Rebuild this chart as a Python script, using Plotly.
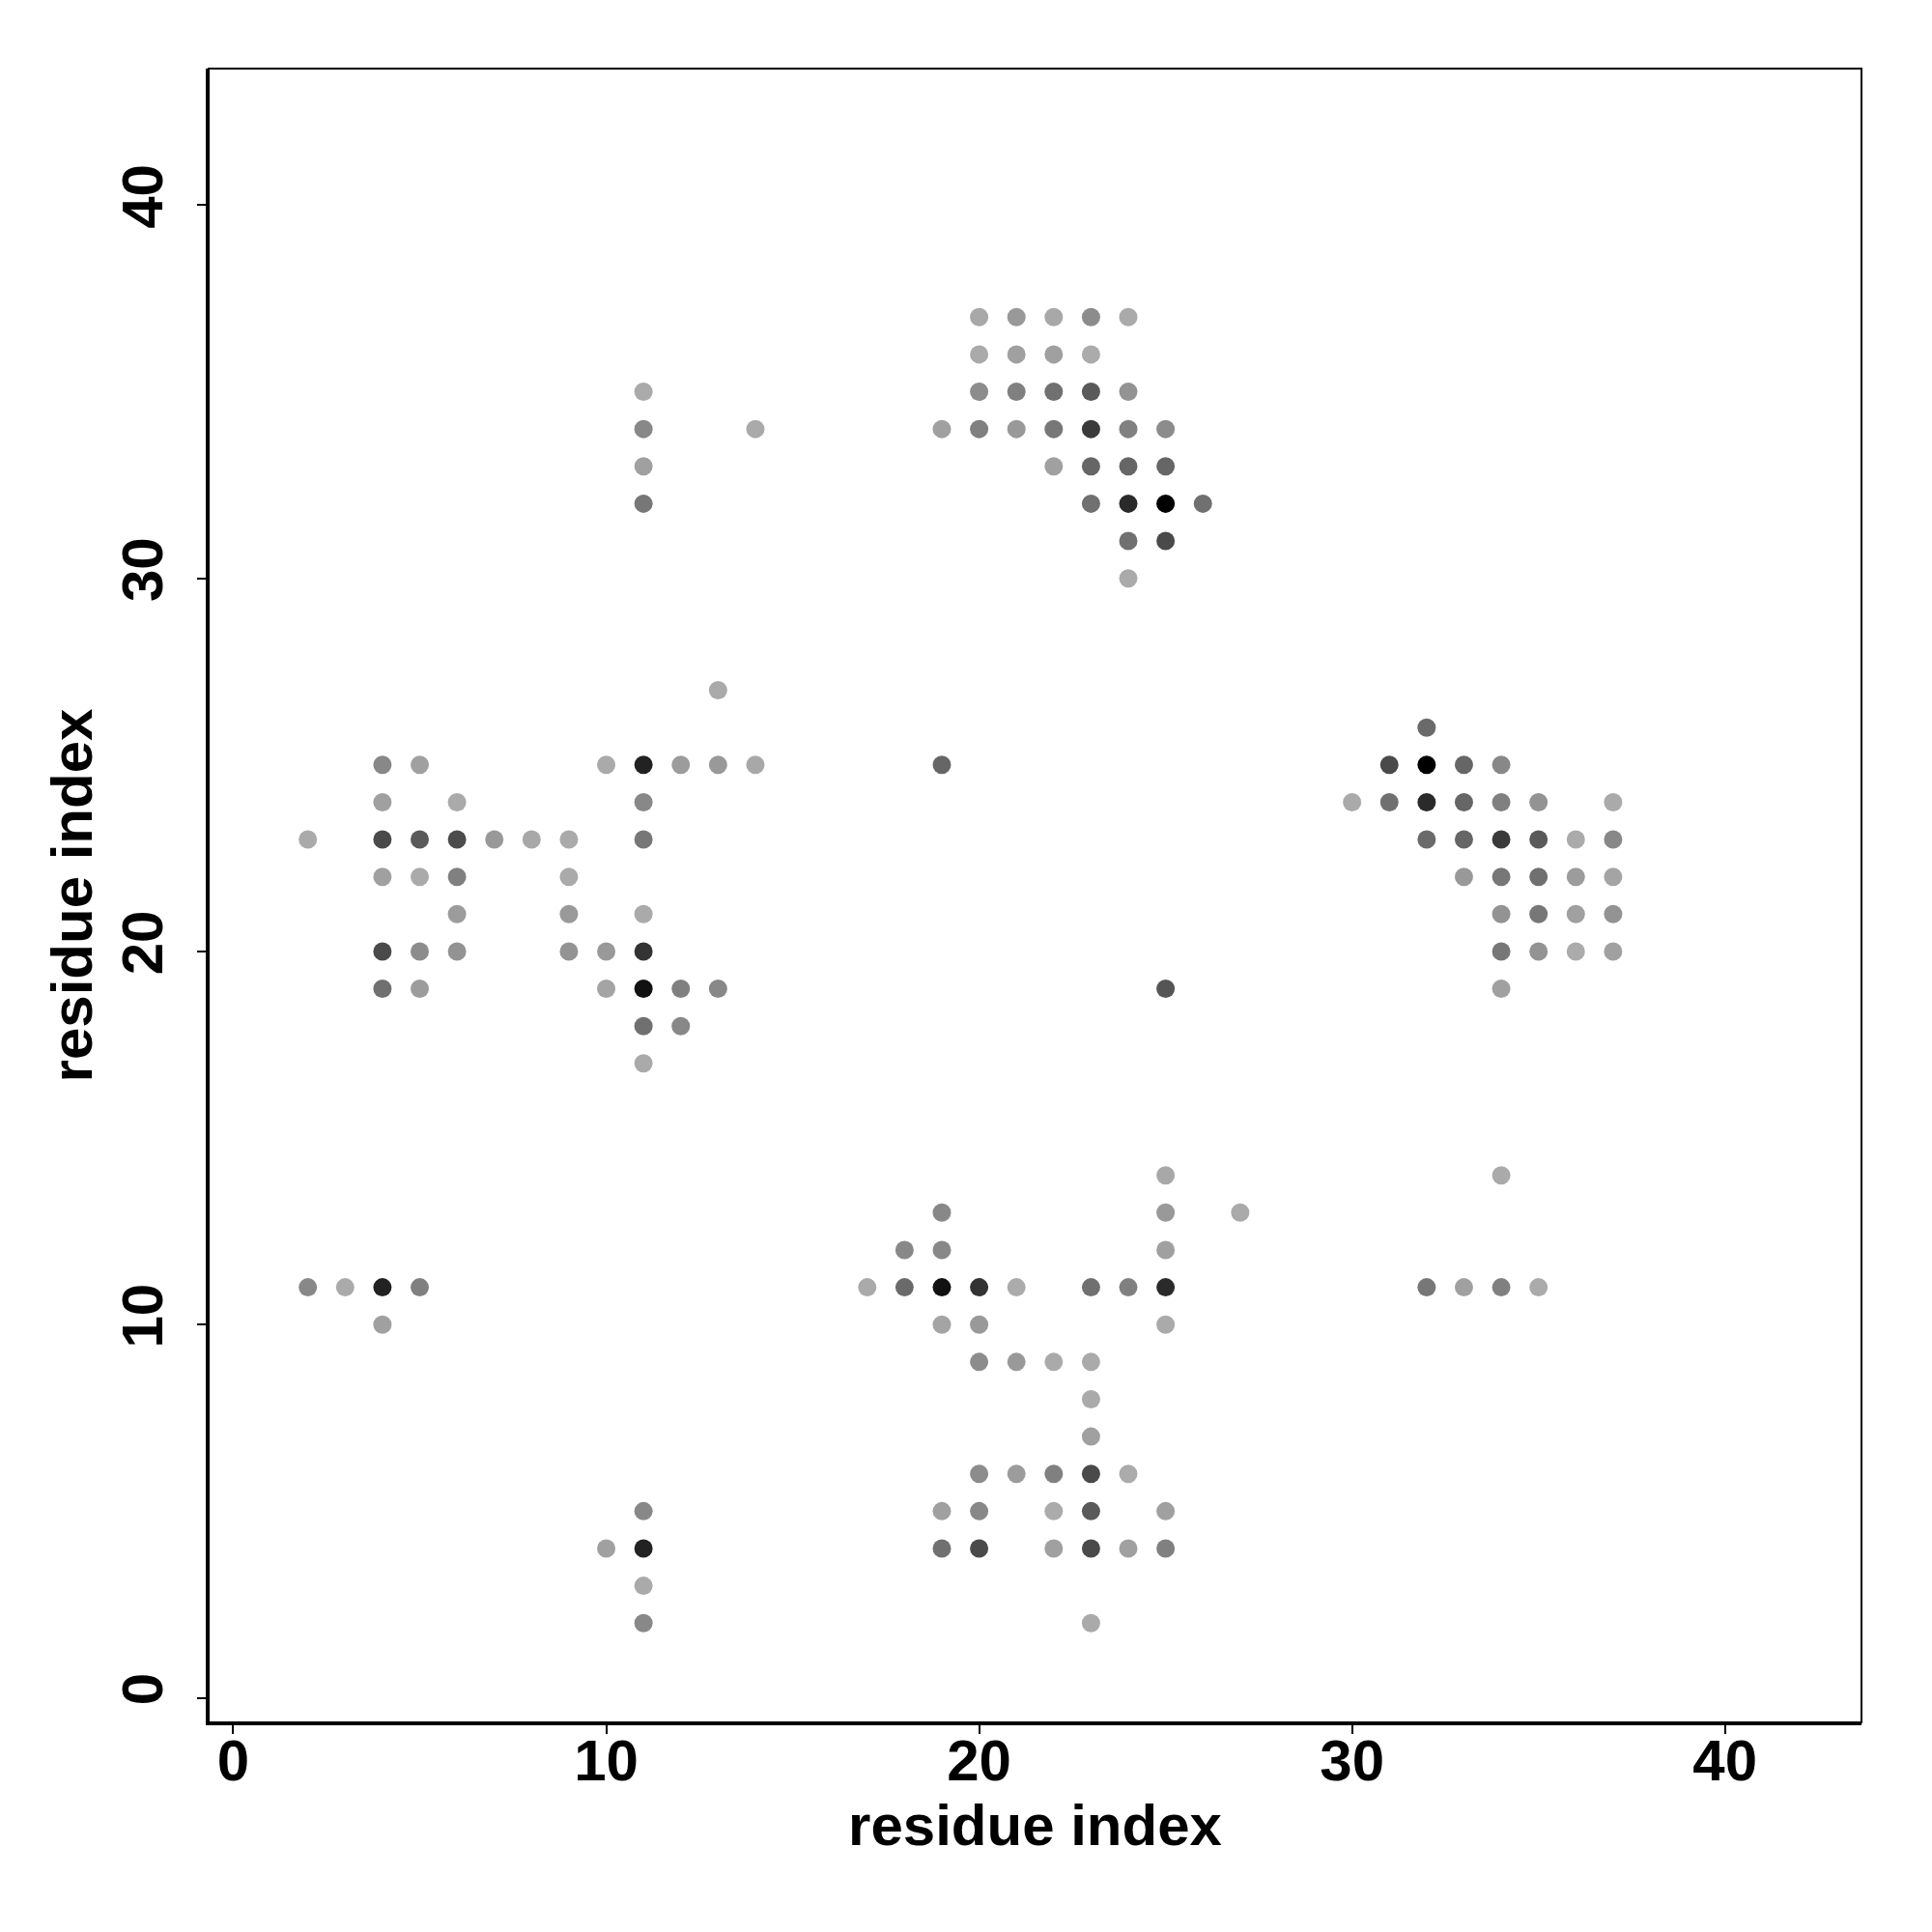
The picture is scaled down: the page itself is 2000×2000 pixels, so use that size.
import plotly.graph_objects as go

# residue-pair contacts: x index, y index, grey level (0 = black, 255 = white)
res_x = [13, 4, 5, 10, 11, 12, 13, 14, 4, 6, 11, 2, 4, 5, 6, 7, 8, 9, 11, 4, 5, 6, 9, 6, 9, 11,
         4, 5, 6, 9, 10, 11, 4, 5, 10, 11, 12, 13, 11, 12, 11,
         20, 21, 22, 23, 24, 20, 21, 22, 23, 11, 20, 21, 22, 23, 24,
         11, 14, 19, 20, 21, 22, 23, 24, 25, 11, 22, 23, 24, 25, 11, 23, 24, 25, 26, 24, 25, 24,
         32, 31, 32, 33, 34, 30, 31, 32, 33, 34, 35, 37, 32, 33, 34, 35, 36, 37,
         33, 34, 35, 36, 37, 34, 35, 36, 37, 34, 35, 36, 37, 34,
         19, 25,
         25, 19, 25, 27, 18, 19, 25, 17, 18, 19, 20, 21, 23, 24, 25, 19, 20, 25,
         20, 21, 22, 23, 23, 23, 20, 21, 22, 23, 24, 19, 20, 22, 23, 25, 19, 20, 22, 23, 24, 25, 23,
         2, 3, 4, 5, 4, 11, 10, 11, 11, 11,
         34, 32, 33, 34, 35]
res_y = [27, 25, 25, 25, 25, 25, 25, 25, 24, 24, 24, 23, 23, 23, 23, 23, 23, 23, 23, 22, 22, 22, 22, 21, 21, 21,
         20, 20, 20, 20, 20, 20, 19, 19, 19, 19, 19, 19, 18, 18, 17,
         37, 37, 37, 37, 37, 36, 36, 36, 36, 35, 35, 35, 35, 35, 35,
         34, 34, 34, 34, 34, 34, 34, 34, 34, 33, 33, 33, 33, 33, 32, 32, 32, 32, 32, 31, 31, 30,
         26, 25, 25, 25, 25, 24, 24, 24, 24, 24, 24, 24, 23, 23, 23, 23, 23, 23,
         22, 22, 22, 22, 22, 21, 21, 21, 21, 20, 20, 20, 20, 19,
         25, 19,
         14, 13, 13, 13, 12, 12, 12, 11, 11, 11, 11, 11, 11, 11, 11, 10, 10, 10,
         9, 9, 9, 9, 8, 7, 6, 6, 6, 6, 6, 5, 5, 5, 5, 5, 4, 4, 4, 4, 4, 4, 2,
         11, 11, 11, 11, 10, 5, 4, 4, 3, 2,
         14, 11, 11, 11, 11]
grey = [170, 136, 160, 170, 34, 156, 153, 168, 160, 170, 136, 170, 74, 90, 76, 153, 168, 170, 119, 160, 170, 128, 170, 156, 153, 170,
        74, 140, 147, 147, 153, 51, 112, 156, 164, 17, 128, 136, 112, 136, 170,
        168, 153, 168, 140, 170, 170, 160, 160, 171, 170, 140, 128, 112, 90, 147,
        136, 170, 160, 128, 153, 119, 58, 128, 140, 160, 160, 102, 102, 102, 119, 112, 42, 0, 112, 112, 74, 170,
        106, 74, 0, 102, 136, 170, 112, 42, 102, 128, 147, 170, 106, 102, 58, 90, 171, 136,
        153, 119, 112, 156, 164, 147, 119, 160, 147, 119, 147, 171, 160, 160,
        102, 85,
        168, 136, 153, 170, 136, 136, 160, 170, 106, 17, 51, 171, 112, 128, 42, 164, 153, 170,
        140, 153, 170, 170, 170, 160, 140, 156, 128, 74, 171, 160, 136, 171, 90, 160, 112, 74, 160, 74, 160, 128, 170,
        136, 170, 34, 128, 160, 136, 160, 34, 170, 136,
        170, 119, 160, 128, 171]

tick_vals = [0, 10, 20, 30, 40]
axis_title = "residue index"

colors = [f"rgb({g},{g},{g})" for g in grey]

fig = go.Figure()
fig.add_trace(go.Scatter(
    x=res_x, y=res_y, mode="markers",
    marker=dict(size=19, color=colors, line=dict(width=0)),
    showlegend=False, hoverinfo="x+y",
))

font_main = dict(family="Liberation Sans, Arial, Helvetica, sans-serif", size=60, color="black", weight="bold")

fig.update_layout(
    width=2000, height=2000,
    margin=dict(l=208, r=81, t=63, b=225),
    paper_bgcolor="white", plot_bgcolor="white",
    font=font_main,
)
fig.update_xaxes(
    range=[-0.66, 43.66], tickvals=tick_vals, ticks="outside", ticklen=9, tickwidth=2,
    tickcolor="black", showline=True, linewidth=3, linecolor="black",
    showgrid=False, zeroline=False, tickfont=font_main, ticklabelstandoff=-24,
    title=dict(text=axis_title, font=font_main, standoff=12),
)
fig.update_yaxes(
    range=[-0.66, 43.66], tickvals=tick_vals, ticks="outside", ticklen=9, tickwidth=2,
    tickcolor="black", showline=True, linewidth=3, linecolor="black",
    showgrid=False, zeroline=False, tickfont=font_main, tickangle=-90, ticklabelstandoff=12,
    title=dict(text=axis_title, font=font_main, standoff=0),
)
fig.add_shape(type="rect", xref="paper", yref="paper", x0=0, y0=0, x1=1, y1=1,
              line=dict(color="black", width=2))

fig.write_html("out.html")
